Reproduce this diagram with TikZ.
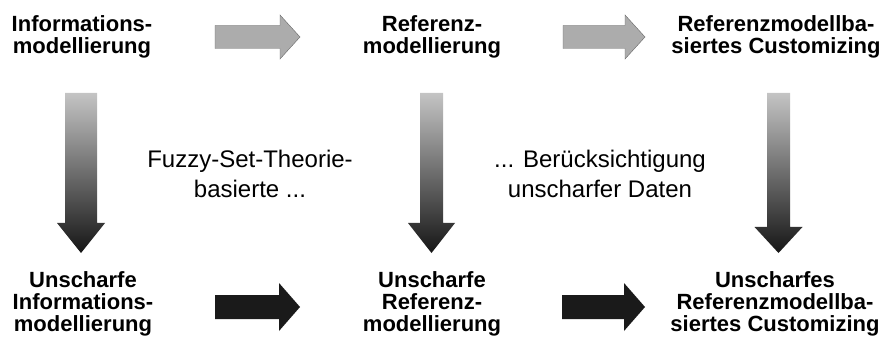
\documentclass[tikz,border=0pt]{standalone}
\usepackage{fontspec}
\setmainfont{Liberation Sans}
\usetikzlibrary{calc}
\definecolor{lightstep}{RGB}{172,172,172}
\definecolor{topshade}{RGB}{196,196,196}
\definecolor{botshade}{RGB}{22,22,22}
\definecolor{darkstep}{RGB}{26,26,26}

\tikzset{
  % block arrow: #1 half shaft, #2 half head, #3 head length
  fat/.style n args={3}{to path={
      ($(\tikztostart)!#1!90:(\tikztotarget)$)
   -- ($(\tikztotarget)!#3!(\tikztostart)!#1!90:(\tikztotarget)$)
   -- ($(\tikztotarget)!#3!(\tikztostart)!#2!90:(\tikztotarget)$)
   -- (\tikztotarget)
   -- ($(\tikztotarget)!#3!(\tikztostart)!#2!-90:(\tikztotarget)$)
   -- ($(\tikztotarget)!#3!(\tikztostart)!#1!-90:(\tikztotarget)$)
   -- ($(\tikztostart)!#1!-90:(\tikztotarget)$) -- cycle}}
}

\begin{document}
\begin{tikzpicture}[x=1pt, y=-1pt,
    stage/.style={font=\fontsize{22}{22}\selectfont\bfseries, align=center, inner sep=0pt},
    note/.style={font=\fontsize{24}{29.5}\selectfont, align=center, inner sep=0pt},
    upper/.style={fill=lightstep, draw=lightstep!60!black, line width=0.4pt},
    lower/.style={fill=darkstep},
    down/.style={top color=topshade, bottom color=botshade}]
    \useasboundingbox (0,0) rectangle (885,347);

    % top row
    \node[stage] (IM) at (82,37) {Informations-\\modellierung};
    \node[stage] (RM) at (432,37) {Referenz-\\modellierung};
    \node[stage] (RC) at (776,37) {Referenzmodellba-\\siertes Customizing};

    % bottom row
    \node[stage] (UIM) at (83,304) {Unscharfe\\Informations-\\modellierung};
    \node[stage] (URM) at (432,304) {Unscharfe\\Referenz-\\modellierung};
    \node[stage] (URC) at (775,304) {Unscharfes\\Referenzmodellba-\\siertes Customizing};

    % middle notes
    \node[note] (fuzzy) at (250,174) {Fuzzy-Set-Theorie-\\basierte ...};
    \node[note] (daten) at (600,174) {... Berücksichtigung\\unscharfer Daten};

    % arrow ends
    \coordinate (a1) at (215,37);  \coordinate (b1) at (300,37);
    \coordinate (a2) at (563,37);  \coordinate (b2) at (645,37);
    \coordinate (a3) at (215,307); \coordinate (b3) at (300,307);
    \coordinate (a4) at (562,307); \coordinate (b4) at (645,307);
    \coordinate (c1) at (81,93);   \coordinate (d1) at (81,253);
    \coordinate (c2) at (431.5,93); \coordinate (d2) at (431.5,253);
    \coordinate (c3) at (778.5,93); \coordinate (d3) at (778.5,253);

    \path[upper] (a1) to[fat={11.5pt}{22pt}{20pt}] (b1);
    \path[upper] (a2) to[fat={11.5pt}{22pt}{20pt}] (b2);
    \path[lower] (a3) to[fat={12pt}{24pt}{21pt}] (b3);
    \path[lower] (a4) to[fat={12pt}{24pt}{21pt}] (b4);
    \shade[down] (c1) to[fat={16pt}{24pt}{30pt}] (d1);
    \shade[down] (c2) to[fat={11.5pt}{23.5pt}{30pt}] (d2);
    \shade[down] (c3) to[fat={11.5pt}{24pt}{26pt}] (d3);
\end{tikzpicture}
\end{document}
